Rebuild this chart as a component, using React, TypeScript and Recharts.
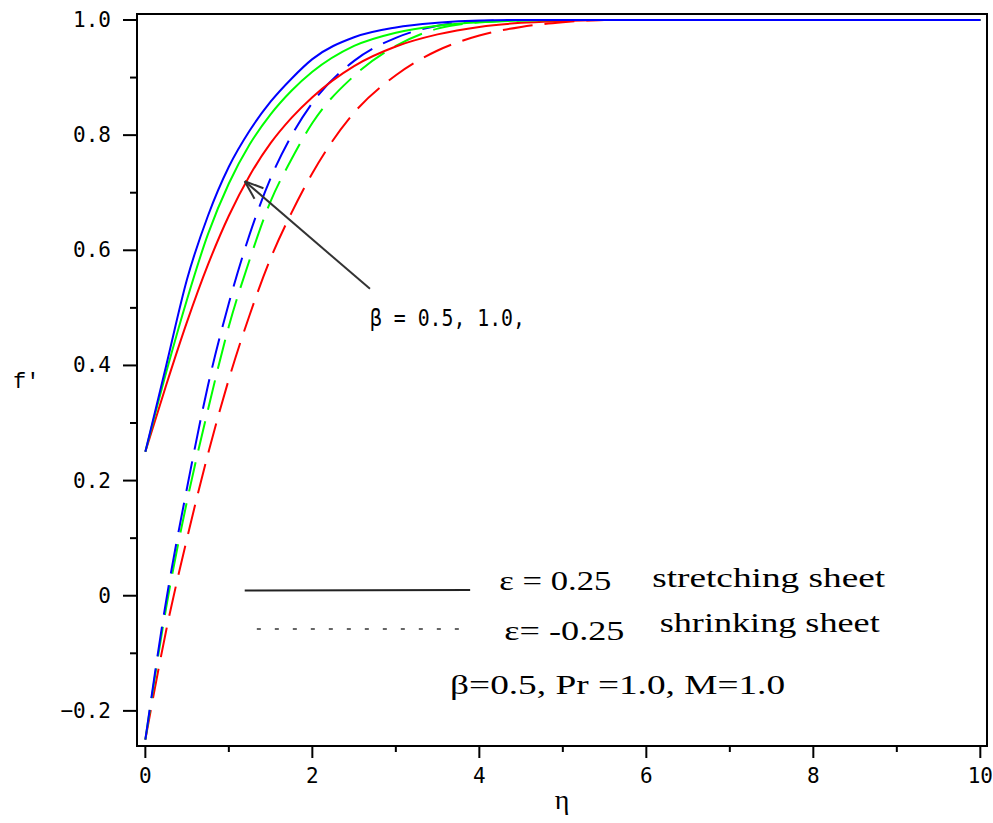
import React from 'react';
import {
  LineChart,
  Line,
  XAxis,
  YAxis,
  ReferenceArea,
  ReferenceLine,
  ReferenceDot,
} from 'recharts';

// eta grid and f' values
const etaValues = [0, 0.25, 0.5, 0.75, 1, 1.25, 1.5, 1.75, 2, 2.5, 3, 3.5, 4, 4.5, 5, 5.5, 6, 7, 8, 9, 10];

// stretching sheet (solid)
const stretchBlue = [0.25, 0.4, 0.55, 0.66, 0.745, 0.808, 0.858, 0.898, 0.932, 0.97, 0.987, 0.995, 0.999, 1.0, 1.0, 1.0, 1.0, 1.0, 1.0, 1.0, 1.0];
const stretchGreen = [0.25, 0.388, 0.515, 0.628, 0.716, 0.784, 0.836, 0.877, 0.91, 0.955, 0.978, 0.99, 0.996, 0.999, 1.0, 1.0, 1.0, 1.0, 1.0, 1.0, 1.0];
const stretchRed = [0.25, 0.366, 0.476, 0.575, 0.66, 0.73, 0.786, 0.83, 0.866, 0.92, 0.954, 0.975, 0.988, 0.995, 0.998, 1.0, 1.0, 1.0, 1.0, 1.0, 1.0];

// shrinking sheet (dashed)
const shrinkBlue = [-0.25, -0.008, 0.188, 0.365, 0.508, 0.628, 0.725, 0.799, 0.856, 0.929, 0.969, 0.99, 0.998, 1.0, 1.0, 1.0, 1.0, 1.0, 1.0, 1.0, 1.0];
const shrinkGreen = [-0.25, -0.02, 0.165, 0.323, 0.468, 0.584, 0.685, 0.758, 0.821, 0.903, 0.955, 0.985, 0.996, 0.999, 1.0, 1.0, 1.0, 1.0, 1.0, 1.0, 1.0];
const shrinkRed = [-0.25, -0.06, 0.1, 0.246, 0.376, 0.488, 0.586, 0.665, 0.734, 0.839, 0.904, 0.947, 0.973, 0.988, 0.996, 1.0, 1.0, 1.0, 1.0, 1.0, 1.0];

const xTicks = [0, 1, 2, 3, 4, 5, 6, 7, 8, 9, 10];
const xTickLabels = ['0', '', '2', '', '4', '', '6', '', '8', '', '10'];
const yTicks = [-0.2, -0.1, 0, 0.1, 0.2, 0.3, 0.4, 0.5, 0.6, 0.7, 0.8, 0.9, 1.0];
const yTickLabels = ['\u22120.2', '', '0', '', '0.2', '', '0.4', '', '0.6', '', '0.8', '', '1.0'];

const xDomain = [-0.1, 10.08];
const yDomain = [-0.261, 1.0104];

const data = etaValues.map((eta, i) => ({
  eta,
  stretchBlue: stretchBlue[i],
  stretchGreen: stretchGreen[i],
  stretchRed: stretchRed[i],
  shrinkBlue: shrinkBlue[i],
  shrinkGreen: shrinkGreen[i],
  shrinkRed: shrinkRed[i],
}));

const tickFont = '"DejaVu Sans Mono", monospace';
const textFont = '"Liberation Serif", "Times New Roman", serif';

const XTick = (props: any) => {
  const { x, y, payload } = props;
  const idx = xTicks.findIndex((t) => Math.abs(t - payload.value) < 1e-6);
  const label = xTickLabels[idx] || '';
  const major = label !== '';
  return (
    <g>
      <line x1={x} x2={x} y1={y} y2={y + (major ? 12 : 6)} stroke="#000" strokeWidth={2} />
      {major && (
        <text x={x} y={y + 30} textAnchor="middle" dominantBaseline="central" fontFamily={tickFont} fontSize={21} fill="#000">
          {label}
        </text>
      )}
    </g>
  );
};

const YTick = (props: any) => {
  const { x, y, payload } = props;
  const idx = yTicks.findIndex((t) => Math.abs(t - payload.value) < 1e-6);
  const label = yTickLabels[idx] || '';
  const major = label !== '';
  return (
    <g>
      <line x1={x - (major ? 14 : 7)} x2={x} y1={y} y2={y} stroke="#000" strokeWidth={2} />
      {major && (
        <text x={x - 26} y={y} textAnchor="end" dominantBaseline="central" fontFamily={tickFont} fontSize={21} fill="#000">
          {label}
        </text>
      )}
    </g>
  );
};

// arrow drawn along a reference segment, head at the second point
const Arrow = (props: any) => {
  const { x1, y1, x2, y2 } = props;
  const ang = Math.atan2(y2 - y1, x2 - x1);
  const len = 20;
  const spread = 0.35;
  const ax = x2 - len * Math.cos(ang - spread);
  const ay = y2 - len * Math.sin(ang - spread);
  const bx = x2 - len * Math.cos(ang + spread);
  const by = y2 - len * Math.sin(ang + spread);
  return (
    <g stroke="#333" strokeWidth={2} fill="none">
      <line x1={x1} y1={y1} x2={x2} y2={y2} />
      <line x1={x2} y1={y2} x2={ax} y2={ay} />
      <line x1={x2} y1={y2} x2={bx} y2={by} />
    </g>
  );
};

const makeText = (str: string, width: number, font: string, size: number) => (p: any) => (
  <text
    x={p.cx}
    y={p.cy}
    dominantBaseline="central"
    fontFamily={font}
    fontSize={size}
    fill="#000"
    textLength={width}
    lengthAdjust="spacingAndGlyphs"
  >
    {str}
  </text>
);

export default function App() {
  return (
    <div style={{ position: 'absolute', left: 0, top: 0, background: '#fff' }}>
      <LineChart width={993} height={823} data={data} margin={{ top: 14, right: 6, bottom: 0, left: 0 }}>
        <XAxis
          dataKey="eta"
          type="number"
          domain={xDomain}
          ticks={xTicks}
          interval={0}
          tick={<XTick />}
          tickSize={0}
          tickMargin={0}
          tickLine={false}
          axisLine={{ stroke: '#000', strokeWidth: 2 }}
          height={77}
          label={{ value: '\u03b7', position: 'insideBottom', offset: 14, fontFamily: textFont, fontSize: 28, fill: '#000' }}
        />
        <YAxis
          type="number"
          domain={yDomain}
          ticks={yTicks}
          interval={0}
          tick={<YTick />}
          tickSize={0}
          tickMargin={0}
          tickLine={false}
          axisLine={{ stroke: '#000', strokeWidth: 2 }}
          width={137}
          label={{ value: "f'", position: 'insideLeft', offset: 13, fontFamily: '"Liberation Mono", monospace', fontSize: 22, fill: '#000' }}
        />
        <ReferenceArea x1={xDomain[0]} x2={xDomain[1]} y1={yDomain[0]} y2={yDomain[1]} stroke="#000" strokeWidth={2} fill="none" fillOpacity={0} />

        <Line type="monotone" dataKey="shrinkRed" stroke="#ff0000" strokeWidth={2} strokeDasharray="30 12" dot={false} isAnimationActive={false} />
        <Line type="monotone" dataKey="shrinkGreen" stroke="#00ff00" strokeWidth={2} strokeDasharray="30 12" dot={false} isAnimationActive={false} />
        <Line type="monotone" dataKey="shrinkBlue" stroke="#0000ff" strokeWidth={2} strokeDasharray="30 12" dot={false} isAnimationActive={false} />
        <Line type="monotone" dataKey="stretchRed" stroke="#ff0000" strokeWidth={2} dot={false} isAnimationActive={false} />
        <Line type="monotone" dataKey="stretchGreen" stroke="#00ff00" strokeWidth={2} dot={false} isAnimationActive={false} />
        <Line type="monotone" dataKey="stretchBlue" stroke="#0000ff" strokeWidth={2} dot={false} isAnimationActive={false} />

        {/* annotation arrow */}
        <ReferenceLine segment={[{ x: 2.69, y: 0.533 }, { x: 1.19, y: 0.72 }]} shape={<Arrow />} />
        <ReferenceDot x={2.69} y={0.482} r={0} shape={makeText('\u03b2 = 0.5, 1.0,', 155, tickFont, 23)} />

        {/* legend */}
        <ReferenceLine segment={[{ x: 1.19, y: 0.009 }, { x: 3.89, y: 0.01 }]} stroke="#222" strokeWidth={2} />
        <ReferenceLine segment={[{ x: 1.335, y: -0.058 }, { x: 3.77, y: -0.058 }]} stroke="#666" strokeWidth={2} strokeDasharray="4 14" />
        <ReferenceDot x={4.24} y={0.027} r={0} shape={makeText('\u03b5 = 0.25', 112, textFont, 28)} />
        <ReferenceDot x={6.07} y={0.031} r={0} shape={makeText('stretching sheet', 233, textFont, 28)} />
        <ReferenceDot x={4.3} y={-0.06} r={0} shape={makeText('\u03b5= -0.25', 120, textFont, 28)} />
        <ReferenceDot x={6.16} y={-0.046} r={0} shape={makeText('shrinking sheet', 220, textFont, 28)} />
        <ReferenceDot x={3.65} y={-0.155} r={0} shape={makeText('\u03b2=0.5, Pr =1.0, M=1.0', 335, textFont, 28)} />
      </LineChart>
    </div>
  );
}
